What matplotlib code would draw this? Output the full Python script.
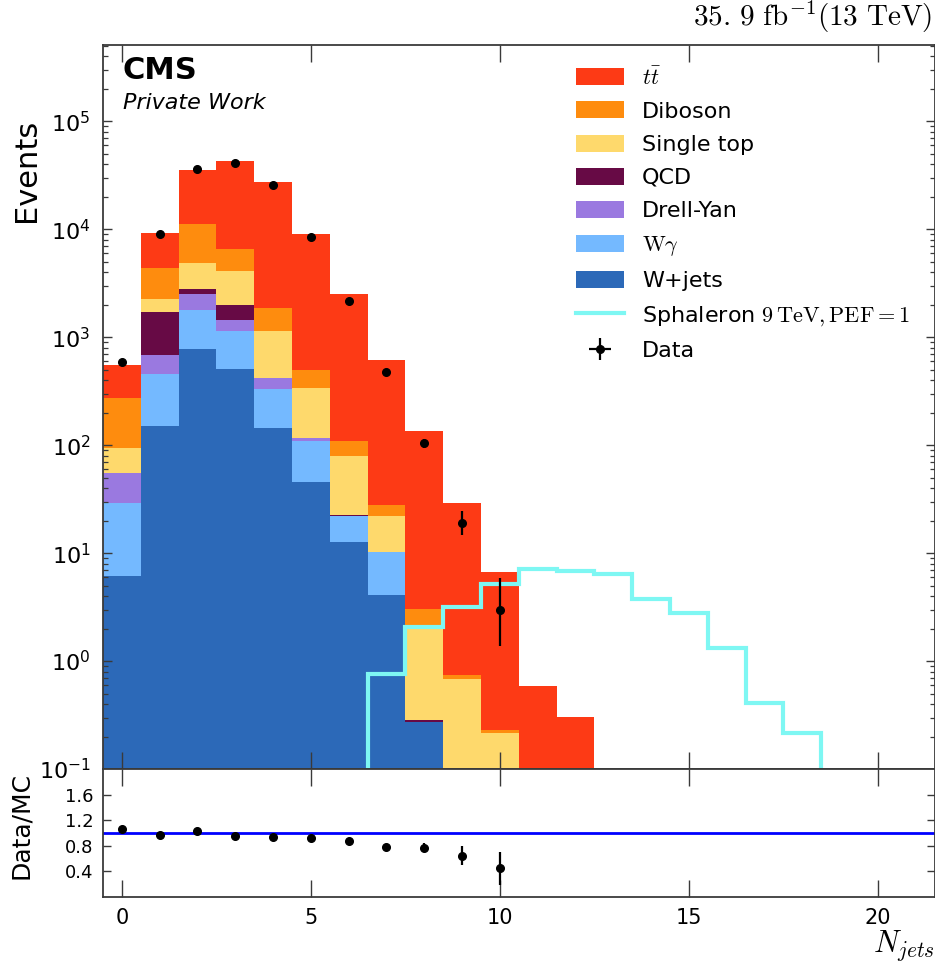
import numpy as np
import matplotlib
matplotlib.use("Agg")
import matplotlib.pyplot as plt

plt.rcParams['mathtext.fontset'] = 'cm'
plt.rcParams['font.family'] = ['DejaVu Sans']

# ---------------- data ----------------
n_jets = np.arange(0, 22)

ttbar = [282, 4980, 23800, 36800, 25600, 8650, 2380, 593, 131.5, 28.7, 6.47, 0.588, 0.303,
         0, 0, 0, 0, 0, 0, 0, 0, 0]
diboson = [181, 2090, 6380, 2460, 732, 154, 31.1, 5.4, 1.06, 0.06, 0.016, 0, 0,
           0, 0, 0, 0, 0, 0, 0, 0, 0]
single_top = [39.3, 565, 2110, 2150, 732, 223, 56.2, 12.1, 1.70, 0.683, 0.214, 0, 0,
              0, 0, 0, 0, 0, 0, 0, 0, 0]
qcd = [0, 1013, 320, 550, 0, 0, 0.4, 0, 0.012, 0, 0, 0, 0,
       0, 0, 0, 0, 0, 0, 0, 0, 0]
drell_yan = [26.3, 234, 695, 284, 88, 7, 0, 0, 0, 0, 0, 0, 0,
             0, 0, 0, 0, 0, 0, 0, 0, 0]
w_gamma = [23.2, 308, 1009, 633, 188, 64.3, 9.6, 6.14, 0, 0, 0, 0, 0,
           0, 0, 0, 0, 0, 0, 0, 0, 0]
w_jets = [6.2, 150, 786, 513, 145, 45.7, 12.7, 4.06, 0.270, 0, 0, 0, 0,
          0, 0, 0, 0, 0, 0, 0, 0, 0]

sphaleron = [0, 0, 0, 0, 0, 0, 0, 0.76, 2.07, 3.17, 5.22, 7.14, 6.78, 6.36, 3.76, 2.77,
             1.31, 0.409, 0.216, 0, 0, 0]

data_x = np.arange(0, 11)
data = [590, 9010, 36400, 41300, 25600, 8400, 2160, 481, 104, 19, 3]
data_err_lo = [24.3, 94.9, 190.8, 203.2, 160, 91.7, 46.5, 21.9, 10.2, 4.3, 1.63]
data_err_hi = [25.3, 95.4, 191.3, 203.7, 160.5, 92.2, 47.0, 22.4, 11.2, 5.4, 2.92]
data_err_sym = [24.3, 94.9, 190.8, 203.2, 160, 91.7, 46.5, 21.9, 10.2, 4.36, 1.73]

processes = [
    ("W+jets", w_jets, "#2c69b8"),
    (r"$\mathrm{W}\gamma$", w_gamma, "#74b9ff"),
    ("Drell-Yan", drell_yan, "#9a79e0"),
    ("QCD", qcd, "#670a45"),
    ("Single top", single_top, "#fed96c"),
    ("Diboson", diboson, "#fe8c0e"),
    (r"$t\bar{t}$", ttbar, "#fd3a15"),
]

# ---------------- figure ----------------
W, H = 935, 967
fig = plt.figure(figsize=(W / 100, H / 100), dpi=100)
L, R = 103 / W, 934.5 / W
ax = fig.add_axes([L, 1 - 769 / H, R - L, (769 - 45) / H])
axr = fig.add_axes([L, 1 - 897 / H, R - L, (897 - 769) / H], sharex=ax)

bottom = np.zeros(len(n_jets))
handles = {}
for label, vals, col in processes:
    vals = np.asarray(vals, dtype=float)
    b = ax.bar(n_jets, vals, width=1.0, bottom=bottom, color=col, linewidth=0,
               align='center', label=label)
    handles[label] = b
    bottom = bottom + vals
mc_total = bottom

edges = np.arange(-0.5, len(n_jets) + 0.5, 1.0)
sph = np.asarray(sphaleron, dtype=float)
nz = np.nonzero(sph)[0]
sph_h = ax.stairs(sph[nz[0]:nz[-1] + 1], edges[nz[0]:nz[-1] + 2], baseline=1e-3,
                  color="#7ef7f3", linewidth=3,
                  label=r"Sphaleron $9\,\mathrm{TeV}, \mathrm{PEF}=1$")

data_h = ax.errorbar(data_x, data, yerr=[data_err_lo, data_err_hi], xerr=0, fmt='o',
                     color='black', markersize=5.5, elinewidth=1.6, capsize=0,
                     label="Data")

ax.set_yscale('log')
ax.set_ylim(0.1, 5.1e5)
ax.set_xlim(-0.5, 21.5)

# ratio
mc_d = mc_total[:len(data)]
ratio = np.asarray(data) / mc_d
ratio_err = np.asarray(data_err_sym) / mc_d
axr.axhline(1.0, color='blue', linewidth=2)
axr.errorbar(data_x, ratio, yerr=ratio_err, fmt='o', color='black', markersize=5.5,
             elinewidth=1.6, capsize=0)
axr.set_ylim(0, 2.0)
axr.set_yticks([0.4, 0.8, 1.2, 1.6])
axr.set_xticks([0, 5, 10, 15, 20])

spine_col = '#3a3a3a'
for a in (ax, axr):
    for s in a.spines.values():
        s.set_color(spine_col)
        s.set_linewidth(1.3)

ax.tick_params(axis='x', which='major', direction='in', top=True, bottom=True,
               length=12, width=1.0, color=spine_col, labelbottom=False)
ax.tick_params(axis='y', which='major', direction='in', left=True, right=True,
               length=6.5, width=1.0, color=spine_col, labelsize=16, pad=9)
ax.tick_params(axis='y', which='minor', direction='in', left=True, right=True,
               length=3.6, width=0.9, color=spine_col)
ax.tick_params(axis='x', which='minor', bottom=False, top=False)
axr.tick_params(axis='x', which='major', direction='in', top=True, bottom=True,
                length=12, width=1.0, color=spine_col, labelsize=15, pad=8)
axr.tick_params(axis='y', which='major', direction='in', left=True, right=True,
                length=5.5, width=1.0, color=spine_col, labelsize=13, pad=7)
axr.tick_params(which='minor', left=False, right=False, top=False, bottom=False)

ax.set_ylabel("Events", fontsize=22)
ax.yaxis.set_label_coords(-0.074, 0.827)
axr.set_ylabel("Data/MC", fontsize=18)
axr.yaxis.set_label_coords(-0.084, 0.555)
axr.set_xlabel(r"$N_{jets}$", fontsize=22)
axr.xaxis.set_label_coords(1.0, -0.425)
axr.xaxis.label.set_ha('right')
axr.xaxis.label.set_va('baseline')

ax.text(0.024, 0.9526, "CMS", transform=ax.transAxes, fontsize=22,
        fontweight='bold', va='baseline', ha='left')
ax.text(0.024, 0.9112, "Private Work", transform=ax.transAxes, fontsize=16,
        fontstyle='italic', va='baseline', ha='left')
ax.text(0.997, 1.0262, r"$35.\,9\ \mathrm{fb}^{-1}(13\ \mathrm{TeV})$",
        transform=ax.transAxes, fontsize=21, ha='right', va='baseline')

order = [r"$t\bar{t}$", "Diboson", "Single top", "QCD", "Drell-Yan",
         r"$\mathrm{W}\gamma$", "W+jets"]
hl = [handles[k] for k in order] + [sph_h, data_h]
ll = order + [r"Sphaleron $9\,\mathrm{TeV}, \mathrm{PEF}=1$", "Data"]
ax.legend(hl, ll, loc='upper left', bbox_to_anchor=(0.569, 0.971), frameon=False,
          fontsize=16, borderaxespad=0, borderpad=0, handlelength=2.16,
          handleheight=0.8, handletextpad=0.8, labelspacing=0.58)

fig.savefig("out.png", dpi=100)
